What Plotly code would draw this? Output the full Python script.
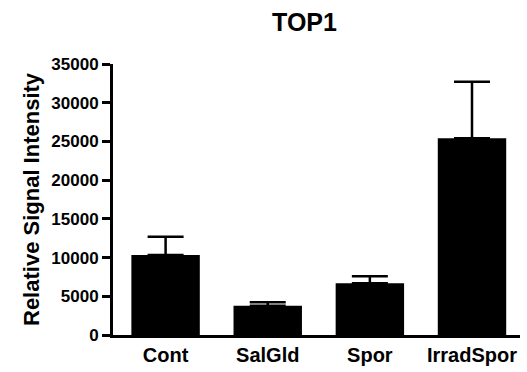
import plotly.graph_objects as go

categories = ["Cont", "SalGld", "Spor", "IrradSpor"]
means = [10330, 3790, 6680, 25400]
errors = [2370, 430, 900, 7320]
y_ticks = [0, 5000, 10000, 15000, 20000, 25000, 30000, 35000]

FONT = "Liberation Sans, Arial, sans-serif"

fig = go.Figure()
fig.add_trace(go.Bar(
    x=categories, y=means,
    width=0.67,
    marker=dict(color="black", line=dict(width=0)),
    error_y=dict(type="data", array=errors, symmetric=False,
                 arrayminus=[0]*len(errors), color="black",
                 thickness=2.5, width=18, visible=True),
))

fig.update_layout(
    width=527, height=372,
    margin=dict(l=113, r=7, t=64, b=37),
    paper_bgcolor="white", plot_bgcolor="white",
    showlegend=False,
    title=dict(text="TOP1", x=304.5/527, xref="container", xanchor="center",
               y=1-22.5/372, yref="container", yanchor="middle",
               font=dict(family=FONT, size=25, color="black", weight="bold")),
    font=dict(family=FONT, color="black"),
)
fig.update_xaxes(
    range=[-0.515, 3.47], showline=True, linecolor="black", linewidth=3,
    ticks="", showgrid=False, zeroline=False,
    tickfont=dict(family=FONT, size=20, color="black", weight="bold"),
)
fig.update_yaxes(
    range=[0, 35000], tickvals=y_ticks, ticktext=[str(v) for v in y_ticks],
    showline=True, linecolor="black", linewidth=3,
    ticks="outside", ticklen=8, tickwidth=2.5, tickcolor="black",
    showgrid=False, zeroline=False,
    tickfont=dict(family=FONT, size=17, color="black", weight="bold"),
)
fig.add_annotation(
    text="Relative Signal Intensity", textangle=-90,
    xref="paper", x=(31.5-113)/407, xanchor="center",
    yref="paper", y=0.5, yanchor="middle", showarrow=False,
    font=dict(family=FONT, size=22, color="black", weight="bold"),
)

fig.write_html("out.html", config={"displayModeBar": False},
               post_script="document.body.style.margin='0';document.body.style.padding='0';")
